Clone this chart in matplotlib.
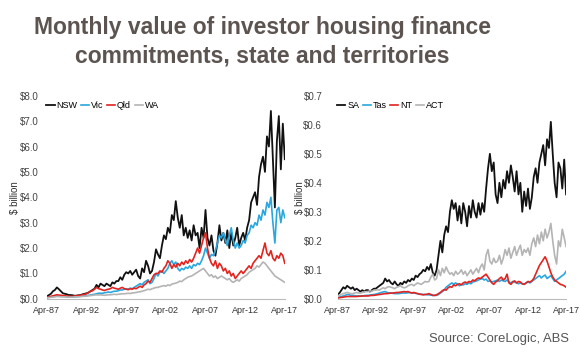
import matplotlib
matplotlib.use('Agg')
import matplotlib.pyplot as plt
import matplotlib.dates as mdates
import pandas as pd

# quarterly readings, Apr-87 .. Apr-17 ($ billion); each row = Apr, Jul, Oct, Jan
nsw = [0.10, 0.15, 0.20, 0.30,  0.35, 0.45, 0.38, 0.30,  0.22, 0.20, 0.18, 0.15,
       0.15, 0.14, 0.12, 0.13,  0.14, 0.15, 0.18, 0.20,  0.22, 0.25, 0.30, 0.35,
       0.40, 0.55, 0.45, 0.60,  0.55, 0.50, 0.60, 0.55,  0.50, 0.65, 0.60, 0.70,
       0.70, 0.85, 0.75, 0.95,  1.05, 1.00, 1.10, 0.95,  1.05, 1.15, 0.90, 0.80,
       1.20, 1.05, 1.50, 1.30,  1.00, 1.10, 1.45, 1.95,  1.75, 1.60, 2.10, 2.50,
       2.35, 2.80, 2.60, 3.30,  3.10, 3.85, 3.20, 2.80,  3.30, 2.50, 2.80, 2.40,
       2.70, 2.30, 2.90, 2.50,  2.60, 2.00, 2.80, 2.40,  3.50, 2.40, 2.10, 2.50,
       1.90, 1.70, 2.20, 2.90,  2.30, 2.60, 2.20, 2.70,  2.00, 2.60, 2.10, 2.40,
       2.80, 2.10, 2.40, 2.60,  2.30, 2.80, 3.10, 3.80,  4.00, 4.20, 3.70, 4.80,
       5.30, 5.60, 5.00, 6.40,  6.00, 7.40, 5.50, 3.60,  6.20, 7.20, 5.10, 6.90,
       5.50]
vic = [0.05, 0.06, 0.07, 0.08,  0.10, 0.12, 0.11, 0.10,  0.10, 0.09, 0.08, 0.08,
       0.08, 0.08, 0.08, 0.09,  0.10, 0.10, 0.11, 0.12,  0.12, 0.14, 0.15, 0.17,
       0.18, 0.20, 0.22, 0.22,  0.22, 0.24, 0.25, 0.27,  0.25, 0.28, 0.30, 0.30,
       0.32, 0.35, 0.35, 0.38,  0.40, 0.38, 0.42, 0.40,  0.45, 0.50, 0.55, 0.60,
       0.55, 0.65, 0.70, 0.75,  0.60, 0.65, 0.80, 1.00,  0.90, 1.05, 1.10, 1.00,
       1.10, 1.20, 1.40, 1.50,  1.35, 1.45, 1.20, 1.10,  1.20, 1.15, 1.25, 1.20,
       1.30, 1.20, 1.35, 1.30,  1.40, 1.35, 1.50, 1.70,  2.00, 1.80, 1.60, 1.75,
       1.70, 1.90, 2.20, 2.50,  2.40, 2.60, 2.30, 2.10,  2.50, 2.80, 2.30, 2.00,
       2.20, 2.00, 2.10, 2.30,  2.20, 2.50, 2.60, 2.90,  2.80, 3.00, 2.90, 3.30,
       3.10, 3.50, 3.30, 3.80,  3.60, 4.00, 3.00, 2.20,  3.50, 3.60, 3.00, 3.50,
       3.20]
qld = [0.05, 0.08, 0.10, 0.12,  0.14, 0.16, 0.15, 0.14,  0.13, 0.12, 0.11, 0.10,
       0.10, 0.10, 0.11, 0.12,  0.13, 0.14, 0.16, 0.18,  0.20, 0.25, 0.30, 0.32,
       0.38, 0.45, 0.40, 0.38,  0.35, 0.33, 0.36, 0.38,  0.40, 0.45, 0.42, 0.40,
       0.38, 0.42, 0.45, 0.40,  0.38, 0.36, 0.40, 0.38,  0.42, 0.40, 0.45, 0.50,
       0.45, 0.55, 0.60, 0.70,  0.65, 0.80, 0.95, 1.00,  1.00, 1.10, 1.05, 1.20,
       1.30, 1.50, 1.40, 1.20,  1.35, 1.25, 1.40, 1.30,  1.45, 1.35, 1.50, 1.40,
       1.55, 1.45, 1.60, 1.80,  2.00, 1.80, 2.10, 2.40,  2.60, 2.00, 1.60, 1.40,
       1.30, 1.50, 1.20, 1.40,  1.30, 1.10, 1.20, 1.00,  1.10, 0.90, 1.00, 0.80,
       0.90, 1.00, 1.10, 1.00,  1.10, 1.20, 1.30, 1.20,  1.40, 1.50, 1.60, 1.70,
       1.60, 1.90, 2.20, 1.80,  1.70, 1.90, 1.60, 1.50,  1.70, 1.60, 1.80, 1.70,
       1.40]
wa = [0.04, 0.05, 0.06, 0.07,  0.08, 0.09, 0.09, 0.08,  0.08, 0.08, 0.07, 0.07,
      0.07, 0.07, 0.08, 0.08,  0.08, 0.09, 0.10, 0.10,  0.11, 0.12, 0.13, 0.14,
      0.15, 0.16, 0.15, 0.16,  0.15, 0.14, 0.15, 0.16,  0.16, 0.17, 0.18, 0.17,
      0.18, 0.19, 0.20, 0.20,  0.21, 0.22, 0.21, 0.23,  0.24, 0.25, 0.27, 0.28,
      0.30, 0.32, 0.35, 0.38,  0.36, 0.40, 0.42, 0.45,  0.45, 0.48, 0.50, 0.52,
      0.50, 0.55, 0.52, 0.58,  0.60, 0.62, 0.65, 0.70,  0.68, 0.75, 0.80, 0.85,
      0.88, 0.90, 0.95, 1.00,  1.05, 1.10, 1.15, 1.20,  1.10, 1.00, 0.90, 0.95,
      0.85, 0.90, 0.80, 0.85,  0.90, 0.85, 0.80, 0.75,  0.80, 0.70, 0.65, 0.70,
      0.75, 0.70, 0.80, 0.85,  0.90, 0.95, 1.05, 1.10,  1.15, 1.20, 1.30, 1.25,
      1.35, 1.45, 1.40, 1.30,  1.20, 1.10, 1.00, 0.90,  0.85, 0.80, 0.75, 0.70,
      0.65]

sa = [0.015, 0.020, 0.030, 0.040,  0.035, 0.045, 0.040, 0.035,  0.040, 0.030, 0.035, 0.030,
      0.025, 0.030, 0.025, 0.030,  0.030, 0.025, 0.030, 0.035,  0.035, 0.040, 0.045, 0.050,
      0.055, 0.070, 0.060, 0.065,  0.055, 0.050, 0.060, 0.050,  0.045, 0.055, 0.050, 0.060,
      0.055, 0.065, 0.060, 0.070,  0.065, 0.080, 0.075, 0.085,  0.090, 0.100, 0.095, 0.110,
      0.100, 0.120, 0.090, 0.080,  0.100, 0.150, 0.200, 0.160,  0.220, 0.250, 0.230, 0.300,
      0.340, 0.310, 0.330, 0.270,  0.320, 0.260, 0.330, 0.300,  0.250, 0.320, 0.280, 0.340,
      0.300, 0.280, 0.330, 0.290,  0.330, 0.300, 0.380, 0.450,  0.500, 0.440, 0.470, 0.360,
      0.330, 0.400, 0.350, 0.410,  0.380, 0.440, 0.400, 0.460,  0.420, 0.370, 0.440, 0.360,
      0.400, 0.300, 0.370, 0.320,  0.380, 0.310, 0.350, 0.420,  0.450, 0.400, 0.470, 0.500,
      0.530, 0.460, 0.550, 0.520,  0.610, 0.500, 0.400, 0.350,  0.470, 0.450, 0.380, 0.480,
      0.360]
tas = [0.005, 0.006, 0.008, 0.010,  0.012, 0.015, 0.014, 0.012,  0.012, 0.011, 0.010, 0.010,
       0.010, 0.010, 0.011, 0.012,  0.012, 0.013, 0.014, 0.015,  0.016, 0.018, 0.020, 0.022,
       0.024, 0.025, 0.022, 0.020,  0.020, 0.019, 0.018, 0.018,  0.018, 0.019, 0.020, 0.020,
       0.020, 0.021, 0.022, 0.020,  0.020, 0.019, 0.018, 0.017,  0.016, 0.015, 0.015, 0.014,
       0.014, 0.013, 0.012, 0.012,  0.012, 0.015, 0.020, 0.025,  0.030, 0.040, 0.045, 0.050,
       0.055, 0.050, 0.055, 0.050,  0.045, 0.050, 0.048, 0.052,  0.050, 0.055, 0.052, 0.058,
       0.060, 0.062, 0.065, 0.068,  0.070, 0.065, 0.068, 0.060,  0.062, 0.058, 0.060, 0.062,
       0.065, 0.060, 0.065, 0.062,  0.060, 0.065, 0.058, 0.055,  0.060, 0.058, 0.055, 0.052,
       0.055, 0.052, 0.050, 0.055,  0.058, 0.055, 0.060, 0.065,  0.070, 0.075, 0.080, 0.072,
       0.078, 0.082, 0.070, 0.075,  0.080, 0.070, 0.060, 0.065,  0.070, 0.075, 0.080, 0.085,
       0.095]
nt = [0.003, 0.004, 0.005, 0.006,  0.007, 0.008, 0.008, 0.008,  0.008, 0.008, 0.008, 0.009,
      0.009, 0.010, 0.010, 0.010,  0.010, 0.011, 0.012, 0.012,  0.013, 0.014, 0.015, 0.016,
      0.017, 0.018, 0.018, 0.019,  0.020, 0.020, 0.021, 0.022,  0.022, 0.023, 0.024, 0.025,
      0.024, 0.025, 0.022, 0.020,  0.022, 0.020, 0.018, 0.016,  0.015, 0.014, 0.015, 0.016,
      0.018, 0.015, 0.012, 0.012,  0.014, 0.018, 0.022, 0.028,  0.032, 0.030, 0.038, 0.042,
      0.040, 0.048, 0.045, 0.050,  0.052, 0.048, 0.055, 0.058,  0.055, 0.060, 0.058, 0.065,
      0.062, 0.068, 0.072, 0.070,  0.075, 0.080, 0.085, 0.075,  0.065, 0.055, 0.050, 0.058,
      0.062, 0.070, 0.075, 0.065,  0.070, 0.085, 0.055, 0.050,  0.058, 0.062, 0.055, 0.060,
      0.058, 0.052, 0.050, 0.055,  0.060, 0.058, 0.062, 0.070,  0.085, 0.100, 0.115, 0.125,
      0.135, 0.145, 0.130, 0.110,  0.090, 0.075, 0.065, 0.060,  0.055, 0.050, 0.048, 0.045,
      0.040]
act = [0.010, 0.012, 0.015, 0.018,  0.020, 0.022, 0.020, 0.018,  0.018, 0.020, 0.022, 0.020,
       0.020, 0.022, 0.024, 0.025,  0.025, 0.028, 0.026, 0.030,  0.030, 0.032, 0.030, 0.035,
       0.038, 0.035, 0.040, 0.042,  0.040, 0.038, 0.035, 0.040,  0.042, 0.045, 0.040, 0.038,
       0.040, 0.045, 0.048, 0.050,  0.045, 0.050, 0.055, 0.052,  0.050, 0.055, 0.060, 0.058,
       0.060, 0.075, 0.085, 0.065,  0.070, 0.100, 0.080, 0.105,  0.090, 0.110, 0.095, 0.085,
       0.090, 0.080, 0.095, 0.085,  0.090, 0.100, 0.085, 0.095,  0.080, 0.090, 0.100, 0.085,
       0.095, 0.105, 0.090, 0.110,  0.120, 0.100, 0.150, 0.170,  0.130, 0.120, 0.140, 0.125,
       0.130, 0.150, 0.120, 0.140,  0.170, 0.150, 0.175, 0.140,  0.160, 0.180, 0.150, 0.170,
       0.185, 0.150, 0.170, 0.160,  0.175, 0.150, 0.190, 0.210,  0.180, 0.220, 0.190, 0.230,
       0.200, 0.240, 0.210, 0.230,  0.260, 0.200, 0.150, 0.120,  0.200, 0.180, 0.240, 0.210,
       0.180]

dates = pd.date_range('1987-04-01', '2017-04-01', freq='3MS')
tick_dates = pd.to_datetime(['1987-04-01', '1992-04-01', '1997-04-01', '2002-04-01',
                             '2007-04-01', '2012-04-01', '2017-04-01'])

title = 'Monthly value of investor housing finance\ncommitments, state and territories'
source = 'Source: CoreLogic, ABS'

BLACK = '#111111'
BLUE = '#2aa7df'
RED = '#e3231f'
GREY = '#b4b4b4'

plt.rcParams['font.family'] = ['Liberation Sans', 'DejaVu Sans']

fig = plt.figure(figsize=(5.8, 3.52), dpi=100)
fig.text(0.453, 0.955, title, ha='center', va='top', fontsize=16.5,
         fontweight='bold', color='#5b5451', linespacing=1.3)
fig.text(0.98, 0.02, source, ha='right', va='bottom', fontsize=9.4,
         color='#555555')


def style(ax, ymax, step, ypad, lpad):
    ax.set_xlim(dates[0], dates[-1])
    ax.set_ylim(0, ymax)
    ax.set_yticks([i * step for i in range(int(round(ymax / step)) + 1)])
    ax.yaxis.set_major_formatter(plt.FuncFormatter(lambda v, p: f'${v:.1f}'))
    ax.set_xticks(tick_dates)
    ax.xaxis.set_major_formatter(mdates.DateFormatter('%b-%y'))
    for s in ['top', 'right', 'left']:
        ax.spines[s].set_visible(False)
    ax.spines['bottom'].set_color('#bbbbbb')
    ax.spines['bottom'].set_linewidth(0.8)
    ax.tick_params(axis='y', labelsize=7, colors='#444444', length=0, pad=ypad)
    ax.tick_params(axis='x', labelsize=6.5, colors='#333333', length=0, pad=5)
    ax.set_ylabel('$ billion', fontsize=7, color='#333333', labelpad=lpad)
    ax.legend(loc='upper left', bbox_to_anchor=(-0.025, 1.0), ncol=4, frameon=False,
              fontsize=6.5, handlelength=0.9, handletextpad=0.2, columnspacing=0.4,
              borderaxespad=0.2)


ax1 = fig.add_axes([0.081, 0.151, 0.410, 0.577])
ax1.plot(dates, nsw, color=BLACK, lw=1.3, label='NSW')
ax1.plot(dates, vic, color=BLUE, lw=1.2, label='Vic')
ax1.plot(dates, qld, color=RED, lw=1.2, label='Qld')
ax1.plot(dates, wa, color=GREY, lw=1.2, label='WA')
style(ax1, 8.0, 1.0, 6, 0)

ax2 = fig.add_axes([0.582, 0.151, 0.394, 0.577])
ax2.plot(dates, sa, color=BLACK, lw=1.3, label='SA')
ax2.plot(dates, tas, color=BLUE, lw=1.2, label='Tas')
ax2.plot(dates, nt, color=RED, lw=1.2, label='NT')
ax2.plot(dates, act, color=GREY, lw=1.2, label='ACT')
style(ax2, 0.7, 0.1, 11, -1)

fig.savefig('out.png', dpi=100)
